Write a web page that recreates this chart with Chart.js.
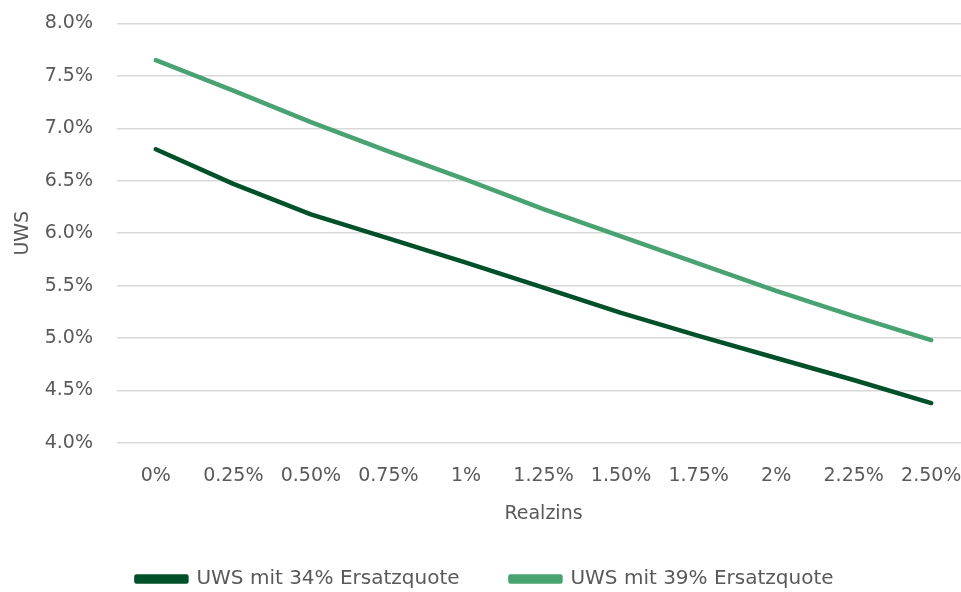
<!DOCTYPE html>
<html>
<head>
<meta charset="utf-8">
<script src="https://cdn.jsdelivr.net/npm/chart.js@4"></script>
<style>
  html, body { margin: 0; padding: 0; background: #fff; overflow: hidden; }
  canvas { display: block; }
</style>
</head>
<body>
<canvas id="uwsChart" width="970" height="592"></canvas>
<script>
// ---------------- Data ----------------
const realzins = ["0%", "0.25%", "0.50%", "0.75%", "1%", "1.25%", "1.50%", "1.75%", "2%", "2.25%", "2.50%"];
const uws34 = [6.80, 6.47, 6.18, 5.95, 5.72, 5.48, 5.24, 5.02, 4.81, 4.60, 4.38];
const uws39 = [7.65, 7.36, 7.06, 6.78, 6.51, 6.23, 5.97, 5.71, 5.45, 5.21, 4.98];
const seriesNames = ["UWS mit 34% Ersatzquote", "UWS mit 39% Ersatzquote"];

const FONT = "DejaVu Sans";
const SIZE = 19;
const GREY = "#595959";
const NONE = "rgba(0,0,0,0)";

new Chart(document.getElementById("uwsChart"), {
  type: "line",
  data: {
    labels: realzins,
    datasets: [
      { label: seriesNames[0], data: uws34, borderColor: "#00502a", backgroundColor: "#00502a" },
      { label: seriesNames[1], data: uws39, borderColor: "#48a271", backgroundColor: "#48a271" }
    ]
  },
  options: {
    responsive: false,
    animation: false,
    elements: {
      line: { borderWidth: 4.5, tension: 0, borderCapStyle: "round", borderJoinStyle: "round" },
      point: { radius: 0, hoverRadius: 0 }
    },
    layout: { padding: { top: 23.5, left: 0, right: 0, bottom: -7 } },
    plugins: {
      tooltip: { enabled: false },
      legend: {
        position: "bottom",
        labels: {
          color: GREY,
          font: { family: FONT, size: 20 },
          boxWidth: 50,
          boxHeight: 5,
          padding: 0,
          // wider gap between the two entries
          generateLabels: chart => {
            const items = Chart.defaults.plugins.legend.labels.generateLabels(chart);
            items[0].text += "        ";
            return items;
          }
        }
      }
    },
    scales: {
      x: {
        offset: true,
        grid: { display: true, drawOnChartArea: false, drawTicks: true, tickLength: 22, tickColor: NONE },
        border: { display: false },
        ticks: { color: GREY, font: { family: FONT, size: SIZE }, padding: 0, maxRotation: 0, autoSkip: false },
        title: { display: true, text: "Realzins", color: GREY, font: { family: FONT, size: SIZE }, padding: { top: 0, bottom: 43.4 } },
        afterFit: s => { s.height = 126.1; }
      },
      y: {
        min: 4,
        max: 8,
        grid: { color: "#d9d9d9", lineWidth: 1.5, drawTicks: true, tickLength: 24, tickColor: NONE },
        border: { display: false },
        ticks: {
          stepSize: 0.5,
          color: GREY,
          font: { family: FONT, size: SIZE },
          padding: 0,
          callback: v => v.toFixed(1) + "%"
        },
        title: { display: true, text: "UWS", color: GREY, font: { family: FONT, size: SIZE }, padding: { top: 12, bottom: 0 } },
        afterFit: s => { s.width = 117; }
      }
    }
  }
});
</script>
</body>
</html>
